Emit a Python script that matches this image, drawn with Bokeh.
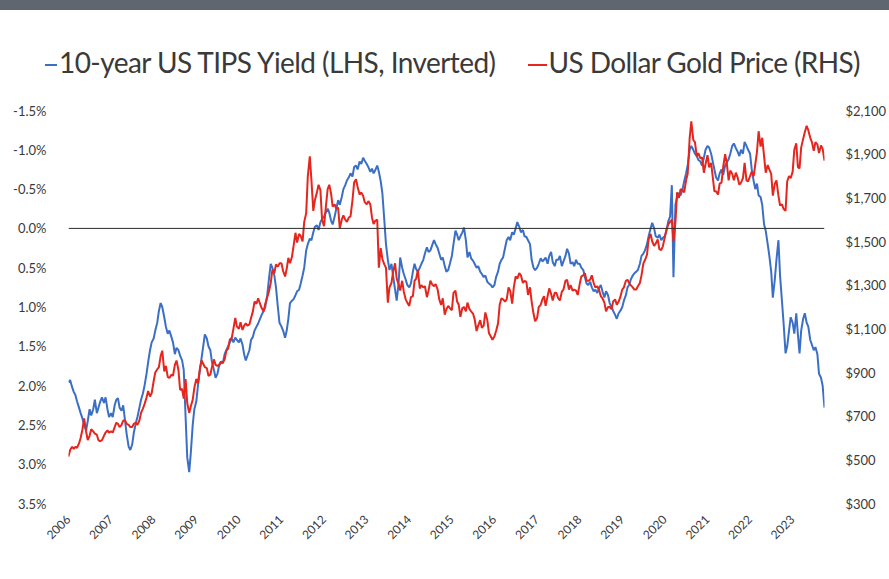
import pandas as pd
from math import pi
from bokeh.plotting import figure
from bokeh.models import (Range1d, LinearAxis, FixedTicker, PrintfTickFormatter,
                          NumeralTickFormatter, DatetimeTickFormatter, Span, Div)
from bokeh.layouts import column
from bokeh.embed import file_html
from bokeh.resources import INLINE

# ---------------- data (semi-monthly readings, 1st and 15th of each month) ----------------
years = list(range(2006, 2024))
left_ticks = [-1.5, -1.0, -0.5, 0.0, 0.5, 1.0, 1.5, 2.0, 2.5, 3.0, 3.5]
right_ticks = [300, 500, 700, 900, 1100, 1300, 1500, 1700, 1900, 2100]

tips_yield = [
    1.96, 1.93, 2.02, 2.08, 2.12, 2.20, 2.28, 2.35, 2.42, 2.50, 2.57, 2.45, 2.30, 2.38, 2.30, 2.18, 2.35, 2.28, 2.20, 2.15, 2.22, 2.15, 2.30, 2.40,
    2.35, 2.40, 2.25, 2.18, 2.16, 2.28, 2.32, 2.25, 2.45, 2.62, 2.78, 2.82, 2.75, 2.60, 2.48, 2.40, 2.28, 2.18, 2.10, 2.00, 1.85, 1.70, 1.55, 1.45,
    1.40, 1.30, 1.20, 1.05, 0.95, 1.00, 1.13, 1.25, 1.34, 1.30, 1.38, 1.45, 1.60, 1.52, 1.55, 1.62, 1.68, 1.80, 2.40, 2.91, 3.10, 2.85, 2.50, 2.30,
    2.20, 2.00, 1.80, 1.65, 1.50, 1.35, 1.40, 1.50, 1.55, 1.70, 1.80, 1.90, 1.85, 1.75, 1.70, 1.72, 1.60, 1.55, 1.50, 1.45, 1.40, 1.45, 1.39, 1.42,
    1.45, 1.40, 1.48, 1.60, 1.68, 1.62, 1.55, 1.42, 1.38, 1.30, 1.25, 1.21, 1.15, 1.10, 1.05, 1.00, 0.85, 0.65, 0.45, 0.50, 0.60, 0.75, 1.00, 1.20,
    1.25, 1.30, 1.39, 1.30, 1.15, 0.95, 0.92, 0.90, 0.85, 0.80, 0.78, 0.70, 0.60, 0.50, 0.28, 0.20, 0.13, 0.15, 0.05, -0.02, -0.04, 0.02, -0.08, -0.12,
    -0.15, -0.20, -0.25, -0.20, -0.10, -0.05, -0.15, -0.25, -0.36, -0.30, -0.40, -0.50, -0.55, -0.61, -0.65, -0.70, -0.66, -0.78, -0.80, -0.75, -0.85, -0.82, -0.90, -0.86,
    -0.82, -0.78, -0.72, -0.76, -0.70, -0.74, -0.80, -0.72, -0.60, -0.45, -0.10, 0.20, 0.40, 0.53, 0.45, 0.60, 0.78, 0.92, 0.70, 0.37, 0.50, 0.58, 0.65, 0.72,
    0.75, 0.70, 0.55, 0.45, 0.52, 0.55, 0.50, 0.45, 0.40, 0.32, 0.24, 0.30, 0.28, 0.22, 0.15, 0.20, 0.25, 0.32, 0.40, 0.37, 0.48, 0.55, 0.53, 0.45,
    0.35, 0.20, 0.03, 0.08, 0.15, 0.10, 0.05, -0.01, 0.15, 0.37, 0.30, 0.38, 0.41, 0.45, 0.50, 0.48, 0.55, 0.58, 0.62, 0.60, 0.68, 0.70, 0.72, 0.75,
    0.72, 0.62, 0.55, 0.45, 0.40, 0.37, 0.25, 0.15, 0.11, 0.15, 0.05, 0.08, 0.00, -0.08, -0.02, 0.05, 0.02, 0.10, 0.11, 0.15, 0.20, 0.40, 0.50, 0.53,
    0.50, 0.45, 0.38, 0.42, 0.40, 0.37, 0.45, 0.35, 0.30, 0.43, 0.48, 0.40, 0.40, 0.35, 0.48, 0.42, 0.35, 0.26, 0.32, 0.45, 0.43, 0.48, 0.40, 0.45,
    0.45, 0.50, 0.53, 0.62, 0.70, 0.72, 0.68, 0.75, 0.80, 0.78, 0.82, 0.76, 0.72, 0.80, 0.88, 0.80, 0.85, 0.95, 1.00, 1.05, 1.10, 1.15, 1.08, 1.05,
    1.00, 0.92, 0.85, 0.75, 0.72, 0.65, 0.60, 0.57, 0.55, 0.53, 0.45, 0.35, 0.32, 0.28, 0.20, 0.10, 0.00, -0.07, 0.00, 0.10, 0.12, 0.08, 0.15, 0.12,
    0.10, 0.03, -0.10, -0.15, -0.55, 0.62, -0.30, -0.40, -0.45, -0.42, -0.50, -0.60, -0.70, -0.80, -1.00, -1.05, -1.00, -0.95, -0.92, -0.87, -0.85, -0.80, -0.90, -1.00,
    -1.05, -1.03, -0.95, -0.85, -0.75, -0.65, -0.61, -0.70, -0.75, -0.68, -0.80, -0.84, -0.88, -0.95, -1.05, -1.08, -1.02, -0.98, -0.92, -1.00, -0.95, -1.10, -1.05, -1.00,
    -0.95, -0.75, -0.60, -0.50, -0.57, -0.42, -0.40, -0.30, -0.05, 0.03, 0.20, 0.35, 0.55, 0.88, 0.65, 0.40, 0.15, 0.60, 0.92, 1.20, 1.59, 1.50, 1.30, 1.13,
    1.20, 1.34, 1.08, 1.35, 1.59, 1.30, 1.15, 1.08, 1.20, 1.25, 1.42, 1.48, 1.55, 1.51, 1.60, 1.85, 1.90, 2.00, 2.28,
]

gold_price = [
    515, 545, 560, 550, 560, 555, 575, 600, 640, 690, 630, 590, 610, 640, 630, 620, 615, 590, 585, 590, 610, 625, 635, 625,
    630, 625, 650, 670, 665, 650, 660, 680, 680, 665, 660, 650, 650, 665, 670, 660, 680, 715, 735, 755, 785, 815, 790, 805,
    860, 900, 915, 925, 975, 1000, 905, 930, 880, 875, 890, 885, 935, 955, 910, 820, 825, 780, 870, 760, 715, 745, 775, 830,
    870, 850, 920, 955, 940, 925, 920, 885, 890, 925, 960, 935, 930, 935, 950, 945, 960, 1000, 1010, 1050, 1060, 1100, 1150, 1110,
    1100, 1130, 1095, 1115, 1125, 1115, 1120, 1150, 1180, 1225, 1215, 1240, 1215, 1195, 1180, 1215, 1245, 1270, 1310, 1370, 1355, 1395, 1385, 1400,
    1400, 1365, 1340, 1375, 1425, 1400, 1430, 1480, 1540, 1495, 1535, 1525, 1500, 1590, 1630, 1800, 1890, 1780, 1640, 1690, 1725, 1760, 1735, 1600,
    1570, 1650, 1740, 1760, 1720, 1660, 1670, 1650, 1655, 1560, 1600, 1620, 1600, 1590, 1610, 1615, 1690, 1770, 1785, 1750, 1715, 1725, 1710, 1680,
    1670, 1685, 1670, 1610, 1580, 1595, 1600, 1380, 1470, 1420, 1395, 1380, 1220, 1290, 1310, 1360, 1400, 1330, 1305, 1275, 1320, 1270, 1235, 1220,
    1205, 1245, 1250, 1320, 1330, 1370, 1285, 1300, 1290, 1295, 1245, 1275, 1320, 1305, 1295, 1305, 1280, 1235, 1210, 1240, 1165, 1190, 1205, 1195,
    1185, 1265, 1275, 1225, 1210, 1155, 1195, 1200, 1180, 1220, 1190, 1180, 1170, 1145, 1090, 1115, 1140, 1105, 1115, 1175, 1140, 1080, 1065, 1050,
    1065, 1090, 1125, 1210, 1240, 1235, 1225, 1235, 1290, 1275, 1215, 1290, 1340, 1330, 1355, 1345, 1310, 1320, 1315, 1255, 1290, 1225, 1170, 1135,
    1150, 1200, 1210, 1235, 1250, 1205, 1250, 1285, 1260, 1230, 1265, 1265, 1240, 1230, 1270, 1280, 1320, 1325, 1280, 1300, 1275, 1280, 1275, 1255,
    1305, 1340, 1345, 1355, 1320, 1320, 1325, 1345, 1310, 1290, 1295, 1280, 1250, 1240, 1220, 1180, 1200, 1200, 1190, 1225, 1235, 1210, 1225, 1245,
    1280, 1290, 1320, 1325, 1310, 1300, 1290, 1280, 1280, 1295, 1310, 1345, 1400, 1415, 1440, 1510, 1535, 1500, 1480, 1490, 1510, 1465, 1460, 1478,
    1520, 1555, 1580, 1590, 1600, 1500, 1590, 1725, 1700, 1740, 1735, 1725, 1780, 1810, 1975, 2050, 1965, 1955, 1890, 1905, 1880, 1885, 1815, 1855,
    1895, 1840, 1860, 1795, 1730, 1730, 1715, 1765, 1770, 1840, 1900, 1860, 1780, 1825, 1810, 1780, 1815, 1795, 1760, 1770, 1790, 1860, 1780, 1775,
    1800, 1820, 1800, 1855, 1910, 2005, 1935, 1975, 1890, 1815, 1850, 1830, 1810, 1710, 1765, 1780, 1710, 1665, 1670, 1650, 1640, 1775, 1800, 1790,
    1820, 1920, 1950, 1840, 1835, 1930, 1970, 2000, 2030, 2010, 1975, 1955, 1915, 1955, 1945, 1905, 1940, 1925, 1870,
]

tips_label = "10-year US TIPS Yield (LHS, Inverted)"
gold_label = "US Dollar Gold Price (RHS)"

dates = pd.date_range("2006-01-01", periods=len(tips_yield), freq="SMS")
xs = [d.to_pydatetime() for d in dates]

BLUE = "#3b6fc6"
RED = "#e5261e"
TXT = "#3a3a3a"
TICK_FONT = "Lato"
W = 889
HEADER_H = 100

# ---------------- header strip: dark bar + legend (HTML text) ----------------
def swatch(color, w):
    return (f'<span style="display:inline-block;width:{w}px;height:2px;background:{color};'
            f'vertical-align:middle;margin-right:2px;position:relative;top:-1px"></span>')

legend_html = (
    f'<div style="display:block;width:{W}px;box-sizing:border-box;'
    f'border-top:10px solid #5f6670;font-family:Lato;font-size:28px;color:{TXT};'
    f'white-space:nowrap;padding-left:45px;padding-top:35px;line-height:34px;margin:0">'
    f'{swatch(BLUE, 12)}<span style="letter-spacing:-0.56px">{tips_label}</span>'
    f'<span style="display:inline-block;width:32px"></span>'
    f'{swatch(RED, 19)}<span style="letter-spacing:-0.6px">{gold_label}</span></div>'
)
legend_div = Div(text=legend_html, width=W, height=HEADER_H, margin=0)

# ---------------- main chart ----------------
p = figure(width=W, height=470, x_axis_type="datetime",
           output_backend="svg", toolbar_location=None,
           x_range=Range1d(xs[0], xs[-1]), y_range=Range1d(3.5, -1.5),
           min_border_left=68, min_border_right=W - 833,
           min_border_top=10, min_border_bottom=67, margin=0)
p.extra_y_ranges = {"gold": Range1d(300, 2100)}
p.outline_line_color = None
p.xgrid.visible = False
p.ygrid.visible = False

r_tips = p.line(xs, tips_yield, color=BLUE, line_width=2)
r_gold = p.line(xs, gold_price, y_range_name="gold", color=RED, line_width=2)

p.add_layout(Span(location=0, dimension="width", line_color="#2b2b2b", line_width=1))

ya = p.yaxis[0]
ya.ticker = FixedTicker(ticks=left_ticks)
ya.formatter = PrintfTickFormatter(format="%.1f%%")

ra = LinearAxis(y_range_name="gold", ticker=FixedTicker(ticks=right_ticks),
                formatter=NumeralTickFormatter(format="$0,0"))
p.add_layout(ra, "right")

xa = p.xaxis[0]
xa.ticker = FixedTicker(ticks=[pd.Timestamp(f"{y}-01-01").value // 10**6 for y in years])
xa.formatter = DatetimeTickFormatter(years="%Y", months="%Y", days="%Y", hours="%Y",
                                     minutes="%Y", seconds="%Y", milliseconds="%Y")
xa.major_label_orientation = pi / 4

for ax in (ya, ra, xa):
    ax.axis_line_color = None
    ax.major_tick_line_color = None
    ax.minor_tick_line_color = None
    ax.major_label_text_font = TICK_FONT
    ax.major_label_text_color = TXT
    ax.major_label_text_font_size = "13px"
ya.major_label_standoff = 16
ra.major_label_standoff = 15
xa.major_label_text_font_size = "12px"
xa.major_label_standoff = 8

layout = column(legend_div, p, spacing=0)
open("out.html", "w").write(file_html(layout, INLINE))
